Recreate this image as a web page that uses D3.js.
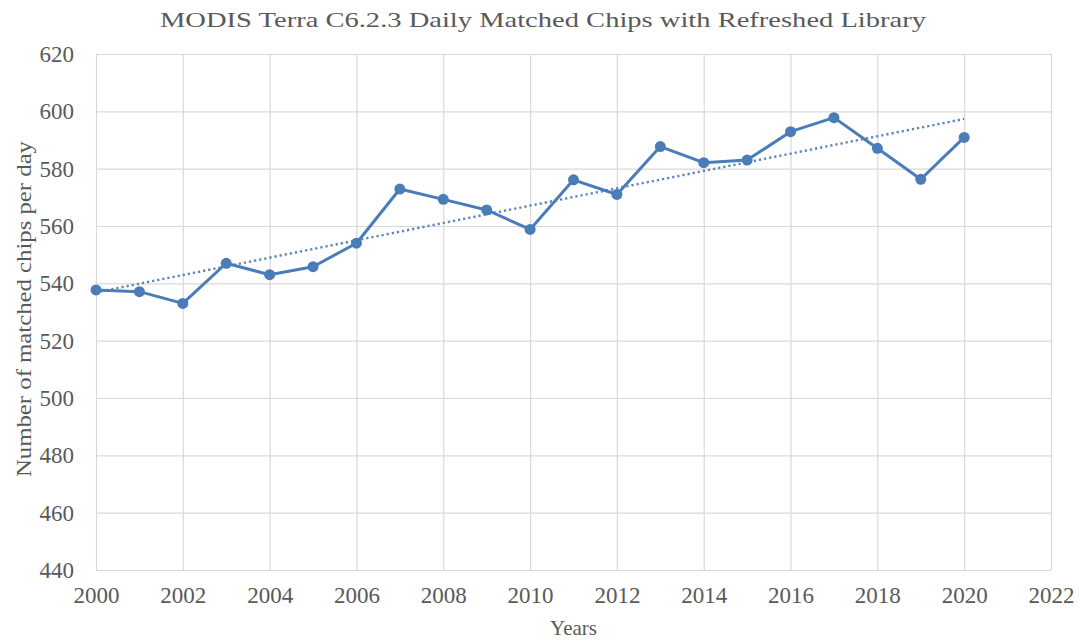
<!DOCTYPE html>
<html>
<head>
<meta charset="utf-8">
<script src="https://cdn.jsdelivr.net/npm/d3@7"></script>
<style>
  html, body { margin: 0; padding: 0; background: #fff; }
  svg { display: block; }
  svg text { font-family: "Liberation Serif", "Tinos", "Times New Roman", "DejaVu Serif", serif; fill: #595959; }
</style>
</head>
<body>
<svg id="chart" width="1079" height="640"></svg>
<script>
// Daily matched chips per year
const years = [2000, 2001, 2002, 2003, 2004, 2005, 2006, 2007, 2008, 2009, 2010,
               2011, 2012, 2013, 2014, 2015, 2016, 2017, 2018, 2019, 2020];
const matchedChips = [537.7, 537.1, 533.0, 547.0, 543.0, 545.8, 554.0, 572.9, 569.3, 565.6, 558.8,
                      576.1, 571.0, 587.7, 582.1, 583.0, 592.9, 597.8, 587.1, 576.3, 590.9];
const xTicks = [2000, 2002, 2004, 2006, 2008, 2010, 2012, 2014, 2016, 2018, 2020, 2022];
const yTicks = [440, 460, 480, 500, 520, 540, 560, 580, 600, 620];

const titleText = "MODIS Terra C6.2.3 Daily  Matched Chips with Refreshed Library";
const xTitle = "Years";
const yTitle = "Number of matched chips per day";

const serif = '"Liberation Serif", "Tinos", "Times New Roman", "DejaVu Serif", serif';

const svg = d3.select("#chart");
const margin = { left: 96, right: 28, top: 54, bottom: 70 };
const W = 1079, H = 640;

const x = d3.scaleLinear().domain([2000, 2022]).range([margin.left, W - margin.right]);
const y = d3.scaleLinear().domain([440, 620]).range([H - margin.bottom, margin.top]);

const gridColor = "#d9d9d9";

// vertical gridlines + year labels
svg.append("g")
  .attr("transform", `translate(0,${H - margin.bottom})`)
  .call(d3.axisBottom(x).tickValues(xTicks).tickFormat(d3.format("d"))
        .tickSize(-(H - margin.bottom - margin.top)).tickPadding(17))
  .attr("font-family", null)
  .call(g => g.select(".domain").remove())
  .call(g => g.selectAll(".tick line").attr("stroke", gridColor).attr("stroke-width", 1.2))
  .call(g => g.selectAll(".tick text").style("font-family", serif).style("font-size", "23px"));

// horizontal gridlines + value labels
svg.append("g")
  .attr("transform", `translate(${margin.left},0)`)
  .call(d3.axisLeft(y).tickValues(yTicks).tickFormat(d3.format("d"))
        .tickSize(-(W - margin.right - margin.left)).tickPadding(22))
  .attr("font-family", null)
  .call(g => g.select(".domain").remove())
  .call(g => g.selectAll(".tick line").attr("stroke", gridColor).attr("stroke-width", 1.2))
  .call(g => g.selectAll(".tick text").style("font-family", serif).style("font-size", "23px"));

// linear trend (least squares)
const n = years.length;
const mx = d3.mean(years), my = d3.mean(matchedChips);
let sxy = 0, sxx = 0;
for (let i = 0; i < n; i++) {
  sxy += (years[i] - mx) * (matchedChips[i] - my);
  sxx += (years[i] - mx) ** 2;
}
const slope = sxy / sxx, intercept = my - slope * mx;
const trendPts = [years[0], years[n - 1]].map(t => [t, intercept + slope * t]);

const lineColor = "#4a7cb8";

svg.append("path")
  .datum(trendPts)
  .attr("fill", "none")
  .attr("stroke", "#5a84bc")
  .attr("stroke-width", 2.4)
  .attr("stroke-dasharray", "2.2,3")
  .attr("d", d3.line().x(d => x(d[0])).y(d => y(d[1])));

const pts = years.map((t, i) => [t, matchedChips[i]]);

svg.append("path")
  .datum(pts)
  .attr("fill", "none")
  .attr("stroke", lineColor)
  .attr("stroke-width", 3)
  .attr("stroke-linejoin", "round")
  .attr("d", d3.line().x(d => x(d[0])).y(d => y(d[1])));

svg.append("g").selectAll("circle")
  .data(pts)
  .join("circle")
  .attr("cx", d => x(d[0]))
  .attr("cy", d => y(d[1]))
  .attr("r", 5.5)
  .attr("fill", lineColor);

// titles
svg.append("text")
  .attr("x", 543)
  .attr("y", 27)
  .attr("text-anchor", "middle")
  .style("font-size", "21px")
  .attr("textLength", 766)
  .attr("lengthAdjust", "spacingAndGlyphs")
  .text(titleText);

svg.append("text")
  .attr("x", (margin.left + W - margin.right) / 2)
  .attr("y", 635)
  .attr("text-anchor", "middle")
  .style("font-size", "21px")
  .text(xTitle);

svg.append("text")
  .attr("transform", `translate(31,309) rotate(-90)`)
  .attr("text-anchor", "middle")
  .style("font-size", "22px")
  .attr("textLength", 336)
  .attr("lengthAdjust", "spacingAndGlyphs")
  .text(yTitle);
</script>
</body>
</html>
